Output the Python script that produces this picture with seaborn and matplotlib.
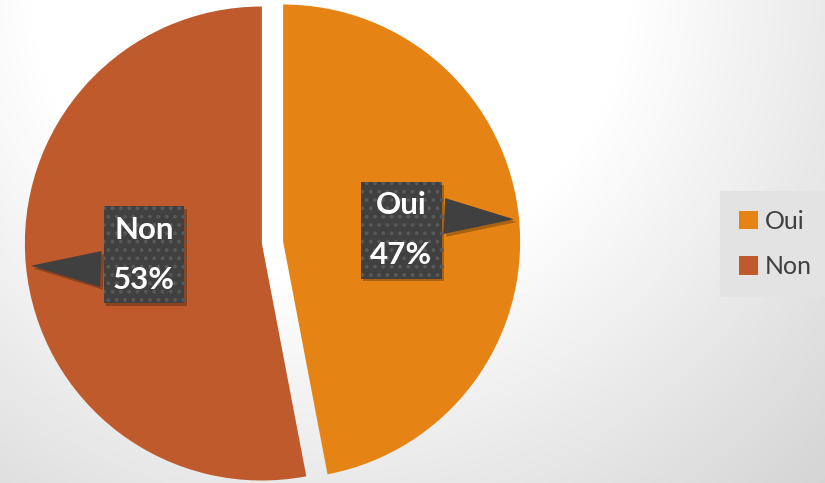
import numpy as np
import matplotlib
matplotlib.use("Agg")
import matplotlib.pyplot as plt
import matplotlib.patheffects as pe
import seaborn as sns
from matplotlib.patches import Patch

labels = ["Oui", "Non"]
values = [47, 53]
colors = ["#E58315", "#BE5A2C"]

sns.set_theme(style="white")
plt.rcParams["font.family"] = ["Lato", "DejaVu Sans"]
plt.rcParams["hatch.color"] = "#585858"
plt.rcParams["hatch.linewidth"] = 1.6

W, H = 825, 483
fig = plt.figure(figsize=(W / 100, H / 100), dpi=100)

# background gradient
bg = fig.add_axes([0, 0, 1, 1], zorder=0)
yy, xx = np.mgrid[0:H, 0:W]
d = np.hypot(xx - 330, yy + 20)
g = 255 - 0.105 * np.clip(d - 300, 0, None)
g = np.clip(g, 0, 255) / 255.0
img = np.dstack([g, g, g])
bg.imshow(img, aspect="auto", extent=[0, W, H, 0])
bg.set_axis_off()

# pie axes
R = 237.0
cx, cy = 272.5, 483 - 242.5
half = 250.0
ax = fig.add_axes([(cx - half) / W, (cy - half) / H, 2 * half / W, 2 * half / H], zorder=1)
ax.set_axis_off()
ax.patch.set_alpha(0)

explode = [0.045, 0.045]
wedges, _ = ax.pie(values, colors=sns.color_palette(colors), startangle=90, counterclock=False,
                   explode=explode, radius=1.0, wedgeprops=dict(linewidth=0))
ax.set_xlim(-half / R, half / R)
ax.set_ylim(-half / R, half / R)

total = sum(values)
shadow = [pe.SimplePatchShadow(offset=(2, -2), shadow_rgbFace="black", alpha=0.25), pe.Normal()]
for w, lab, v, ex in zip(wedges, labels, values, explode):
    ang = np.deg2rad((w.theta1 + w.theta2) / 2)
    c, s = np.cos(ang), np.sin(ang)
    ox, oy = ex * c, ex * s
    tip = (ox + 0.99 * c, oy + 0.99 * s)
    txt = (ox + 0.50 * c, oy + 0.50 * s)
    ann = ax.annotate(f"{lab}\n{round(100 * v / total)}%", xy=tip, xytext=txt,
                      ha="center", va="center", color="white", fontsize=22.5, fontweight="bold",
                      linespacing=1.95,
                      bbox=dict(boxstyle="square,pad=0.3", fc="#404040", ec="#585858", lw=0, hatch=".."),
                      arrowprops=dict(arrowstyle="wedge,tail_width=1.15,shrink_factor=0.5", fc="#404040",
                                      ec="none", lw=0, relpos=(0.5, 0.5 + 0.21 * np.sign(s))),
                      zorder=5)
    ann.get_bbox_patch().set_path_effects(shadow)
    ann.arrow_patch.set_path_effects(shadow)

# legend
handles = [Patch(facecolor=col, edgecolor="none") for col in colors]
leg = fig.legend(handles, labels, loc="center left", bbox_to_anchor=(720 / W, 1 - 244 / H),
                 frameon=True, fontsize=18, handlelength=0.75, handleheight=0.75, handletextpad=0.3,
                 labelspacing=0.9, borderpad=0.75, borderaxespad=0)
leg.get_frame().set_facecolor("#e3e3e3")
leg.get_frame().set_edgecolor("none")
leg.get_frame().set_alpha(1)
leg.get_frame().set_boxstyle("square", pad=0)
for t in leg.get_texts():
    t.set_color("#404040")

fig.savefig("out.png", dpi=100)
